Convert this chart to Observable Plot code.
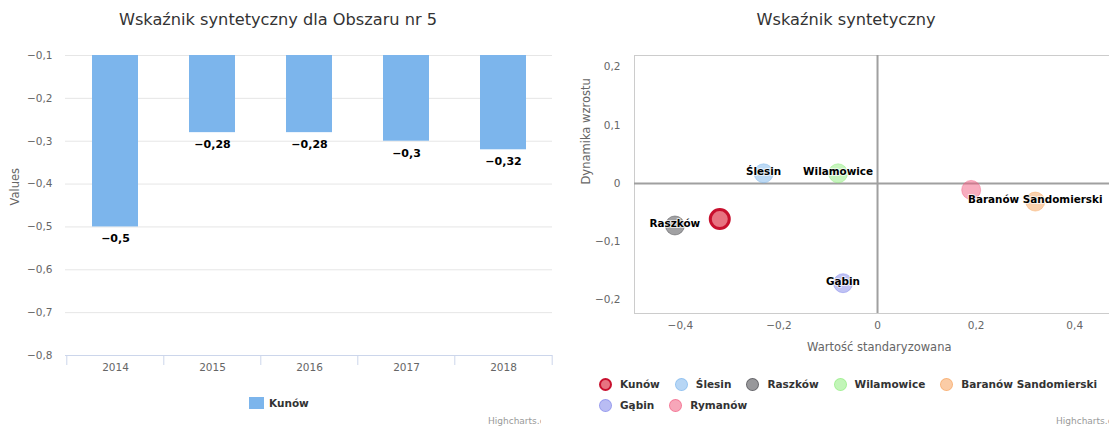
<!DOCTYPE html>
<html><head><meta charset="utf-8">
<script src="https://cdn.jsdelivr.net/npm/d3@7"></script>
<script src="https://cdn.jsdelivr.net/npm/@observablehq/plot@0.6"></script>
<style>
html,body{margin:0;padding:0;background:#fff;}
body{width:1109px;height:429px;overflow:hidden;font-family:"DejaVu Sans",sans-serif;}
#root{position:relative;width:1109px;height:429px;overflow:hidden;}
svg{max-width:none !important;}
.abs{position:absolute;}
.title{font-size:16.2px;color:#333;white-space:nowrap;transform:translateX(-50%);top:10px;}
.credit{font-size:9px;color:#999;white-space:nowrap;}
.leg{display:flex;align-items:center;font-size:10.5px;font-weight:bold;color:#333;white-space:nowrap;}
.sw{display:inline-block;box-sizing:border-box;}
#legR{left:599px;top:377px;width:530px;display:flex;flex-wrap:wrap;column-gap:15px;row-gap:3.5px;}
#legR .leg{height:14px;}
#legR .sw{width:13px;height:13px;border-radius:50%;margin-right:8px;}
</style></head><body>
<div id="root">
  <div id="plotL" class="abs" style="left:0;top:0;"></div>
  <div id="plotRwrap" class="abs" style="left:560px;top:0;width:549px;height:429px;overflow:hidden;"><div id="plotR" style="width:580px;"></div></div>
  <div class="abs title" style="left:278px;">Wskaźnik syntetyczny dla Obszaru nr 5</div>
  <div class="abs title" style="left:846px;">Wskaźnik syntetyczny</div>
  <div id="legL" class="abs leg" style="left:249px;top:397px;"></div>
  <div id="legR" class="abs"></div>
  <div class="abs" style="left:0;top:0;width:541px;height:429px;overflow:hidden;"><div class="abs credit" style="left:488px;top:416px;">Highcharts.com</div></div>
  <div class="abs credit" style="left:1056px;top:416px;">Highcharts.com</div>
</div>
<script>
// ---- Left chart data ----
const years = ["2014", "2015", "2016", "2017", "2018"];
const kunowValues = [-0.5, -0.28, -0.28, -0.3, -0.32];
const barSeriesName = "Kunów";
const leftYTicks = [-0.1, -0.2, -0.3, -0.4, -0.5, -0.6, -0.7, -0.8];
const leftYTitle = "Values";

// ---- Right chart data ----
const towns = ["Kunów", "Ślesin", "Raszków", "Wilamowice", "Baranów Sandomierski", "Gąbin", "Rymanów"];
const standardized = [-0.32, -0.231, -0.411, -0.08, 0.32, -0.07, 0.19];
const growth = [-0.061, 0.0175, -0.072, 0.0175, -0.031, -0.171, -0.011];
const townColors = ["#d4001a", "#7cb5ec", "#434348", "#90ed7d", "#f7a35c", "#8085e9", "#f15c80"];
const labeledTowns = ["Ślesin", "Raszków", "Wilamowice", "Baranów Sandomierski", "Gąbin"];
const rightXTicks = [-0.4, -0.2, 0, 0.2, 0.4];
const rightYTicks = [-0.2, -0.1, 0, 0.1, 0.2];
const rightXTitle = "Wartość standaryzowana";
const rightYTitle = "Dynamika wzrostu";

const fmt = v => String(+v.toFixed(4)).replace(".", ",").replace("-", "\u2212");

// ---------- Left bar chart ----------
const bars = years.map((y, i) => ({year: y, value: kunowValues[i]}));
const halfStep = (552 - 65) / years.length / 2;
const left = Plot.plot({
  width: 556, height: 380,
  marginTop: 55, marginBottom: 25, marginLeft: 65, marginRight: 4,
  style: {fontFamily: "DejaVu Sans, sans-serif", fontSize: "10.5px", background: "transparent", overflow: "visible"},
  x: {domain: years, paddingInner: 0.527, paddingOuter: 0.2635, label: null},
  y: {domain: [-0.8, -0.1], label: null},
  marks: [
    Plot.gridY(leftYTicks, {stroke: "#e6e6e6", strokeOpacity: 1}),
    Plot.barY(bars, {x: "year", y1: -0.1, y2: "value", fill: "#7cb5ec"}),
    Plot.text(bars, {x: "year", y: "value", text: d => fmt(d.value), dy: 12, fill: "#000", fontWeight: "bold", fontSize: 11}),
    Plot.ruleY([-0.8], {stroke: "#ccd6eb"}),
    Plot.axisX({tickSize: 10, text: null, dx: -halfStep, stroke: "#ccd6eb", strokeOpacity: 1}),
    Plot.axisX([years[years.length - 1]], {tickSize: 10, text: null, dx: halfStep, stroke: "#ccd6eb", strokeOpacity: 1}),
    Plot.axisX({tickSize: 0, tickPadding: 8, fill: "#666", label: null}),
    Plot.axisY(leftYTicks, {tickSize: 0, tickPadding: 13, tickFormat: fmt, fill: "#666", label: null}),
    Plot.text([leftYTitle], {frameAnchor: "left", rotate: -90, dx: -50, fill: "#666", fontSize: 11.5})
  ]
});
document.getElementById("plotL").appendChild(left);

document.getElementById("legL").innerHTML =
  `<span class="sw" style="width:15px;height:12px;background:#7cb5ec;margin-right:5px"></span>${barSeriesName}`;

// ---------- Right bubble chart ----------
const pts = towns.map((t, i) => ({name: t, x: standardized[i], y: growth[i]}));
const right = Plot.plot({
  width: 580, height: 365,
  marginTop: 55, marginBottom: 52, marginLeft: 74, marginRight: 16.5,
  style: {fontFamily: "DejaVu Sans, sans-serif", fontSize: "10.5px", background: "transparent", overflow: "visible", maxWidth: "none"},
  x: {domain: [-0.493, 0.5], label: null},
  y: {domain: [-0.223, 0.2196], label: null},
  color: {domain: towns, range: townColors},
  marks: [
    Plot.frame({stroke: "#cccccc"}),
    Plot.ruleX([0], {stroke: "#a0a0a0", strokeWidth: 2}),
    Plot.ruleY([0], {stroke: "#a0a0a0", strokeWidth: 2}),
    Plot.dot(pts.filter(d => d.name !== "Kunów"), {x: "x", y: "y", r: 9.5, fill: "name", fillOpacity: 0.5, stroke: "name", strokeOpacity: 0.45, strokeWidth: 1}),
    Plot.dot(pts.filter(d => d.name === "Kunów"), {x: "x", y: "y", r: 9.5, fill: "name", fillOpacity: 0.55, stroke: "#c8102e", strokeWidth: 3}),
    Plot.text(pts.filter(d => labeledTowns.includes(d.name)), {x: "x", y: "y", text: "name", dy: -1.5, fill: "#000", fontWeight: "bold", fontSize: 10.4, stroke: "white", strokeWidth: 2, strokeOpacity: 0.7}),
    Plot.axisX(rightXTicks, {tickSize: 0, tickPadding: 8, tickFormat: fmt, fill: "#666", label: null}),
    Plot.axisY(rightYTicks, {tickSize: 0, tickPadding: 14, tickFormat: fmt, fill: "#666", label: null}),
    Plot.text([rightXTitle], {frameAnchor: "bottom", dy: 37, fill: "#666", fontSize: 11.5}),
    Plot.text([rightYTitle], {frameAnchor: "left", rotate: -90, dx: -48, fill: "#666", fontSize: 11.5})
  ]
});
document.getElementById("plotR").appendChild(right);

const rgba = (hex, a) => { const c = d3.color(hex); c.opacity = a; return c.formatRgb(); };
document.getElementById("legR").innerHTML = towns.map((t, i) => {
  const col = townColors[i];
  const border = t === "Kunów" ? "2px solid #c8102e" : `1px solid ${rgba(col, 0.6)}`;
  return `<span class="leg"><span class="sw" style="background:${rgba(col, 0.55)};border:${border}"></span>${t}</span>`;
}).join("");
// line break after the 5th legend item, as in the reference
const items = document.querySelectorAll("#legR .leg");
const br = document.createElement("div"); br.style.flexBasis = "100%"; br.style.height = "0";
items[4].after(br);
</script>
</body></html>
